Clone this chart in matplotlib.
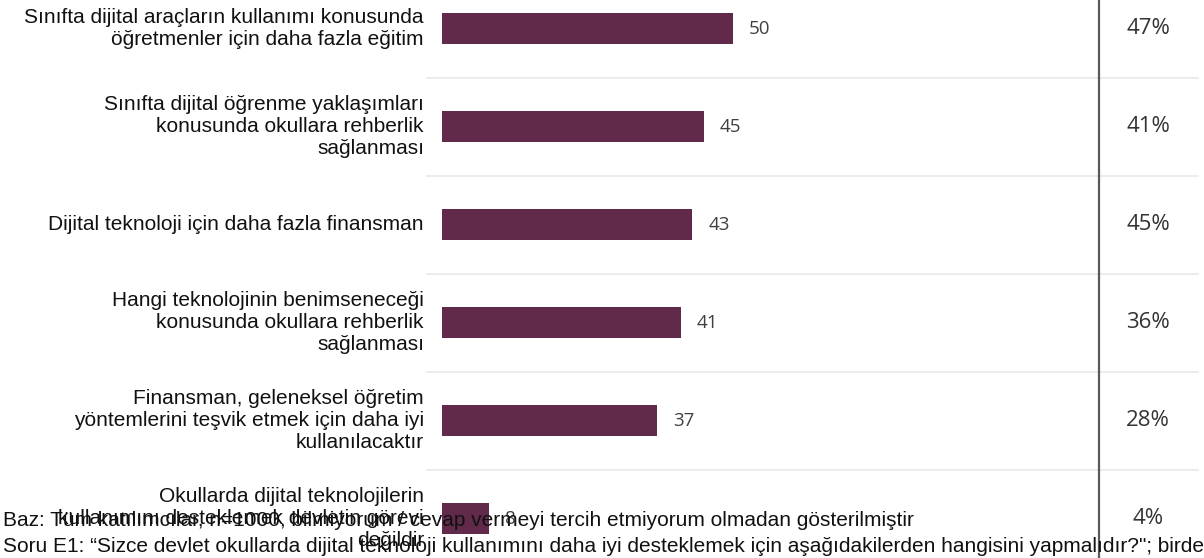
import matplotlib
matplotlib.use("Agg")
import matplotlib.pyplot as plt

categories = [
    "Sınıfta dijital araçların kullanımı konusunda\nöğretmenler için daha fazla eğitim",
    "Sınıfta dijital öğrenme yaklaşımları\nkonusunda okullara rehberlik\nsağlanması",
    "Dijital teknoloji için daha fazla finansman",
    "Hangi teknolojinin benimseneceği\nkonusunda okullara rehberlik\nsağlanması",
    "Finansman, geleneksel öğretim\nyöntemlerini teşvik etmek için daha iyi\nkullanılacaktır",
    "Okullarda dijital teknolojilerin\nkullanımını desteklemek devletin görevi\ndeğildir",
]
values = [50, 45, 43, 41, 37, 8]
pct_labels = ["47%", "41%", "45%", "36%", "28%", "4%"]

footer_base = "Baz: Tüm katılımcılar, n=1000, bilmiyorum / cevap vermeyi tercih etmiyorum olmadan gösterilmiştir"
footer_question = ("Soru E1: “Sizce devlet okullarda dijital teknoloji kullanımını daha iyi desteklemek "
                   "için aşağıdakilerden hangisini yapmalıdır?\"; birden fazla seçenek işaretlenebilir")

bar_color = "#612a4b"
W, H = 1204, 558
x0_px, px_per_unit = 442, 5.82
row0_px, row_px = 28.5, 98

fig = plt.figure(figsize=(W / 100, H / 100), dpi=100)
ax = fig.add_axes([x0_px / W, 0, 1 - x0_px / W, 1])
ax.set_xlim(0, (W - x0_px) / px_per_unit)
ax.set_ylim((H - row0_px) / row_px, -row0_px / row_px)
ax.axis("off")

ys = list(range(len(values)))
ax.barh(ys, values, height=31 / row_px, color=bar_color, zorder=2)

# row separators
sep_left = (427 - x0_px) / px_per_unit
sep_right = (1198 - x0_px) / px_per_unit
for i in range(len(values) - 1):
    ax.plot([sep_left, sep_right], [i + 0.5, i + 0.5], color="#e9e9e9", lw=1.2,
            clip_on=False, zorder=1)

# divider before the right-hand column
xv = (1099 - x0_px) / px_per_unit
ax.axvline(xv, color="#5a5a5a", lw=1.6, zorder=3)

for y, v, lab, pct in zip(ys, values, categories, pct_labels):
    ax.annotate(str(v), (v, y), xytext=(11.5, 0), textcoords="offset points",
                ha="left", va="center", fontsize=13.5, color="#404040",
                family="Open Sans", zorder=2)
    ax.annotate(lab, (0, y), xytext=(-13, 0), textcoords="offset points",
                ha="right", va="center", fontsize=15, color="#111111",
                family="Liberation Sans", multialignment="right", zorder=2)
    ax.text((1148 - x0_px) / px_per_unit, y, pct, ha="center", va="center",
            fontsize=16, color="#333333", family="Open Sans")

fig.text(3 / W, 1 - 520 / H, footer_base, ha="left", va="center", fontsize=15,
         color="#111111", family="Liberation Sans", zorder=5)
fig.text(3 / W, 1 - 546 / H, footer_question, ha="left", va="center", fontsize=15,
         color="#111111", family="Liberation Sans", zorder=5)

fig.savefig("out.png", dpi=100)
